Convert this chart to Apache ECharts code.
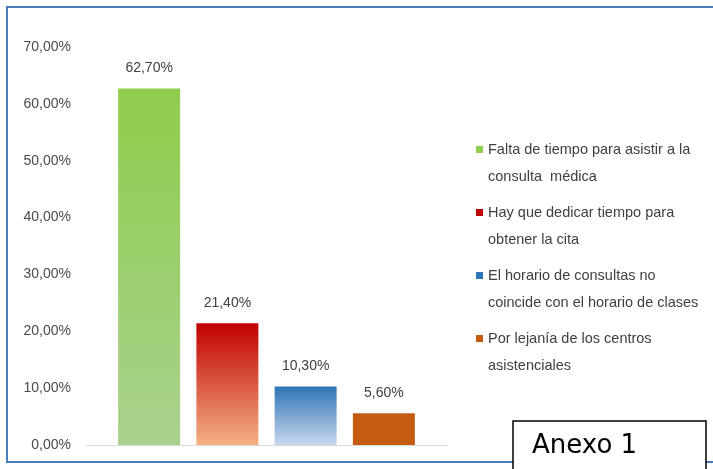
<!DOCTYPE html>
<html>
<head>
<meta charset="utf-8">
<style>
  html, body { margin: 0; padding: 0; background: #ffffff; }
  #chart { width: 713px; height: 469px; }
</style>
<script src="https://cdn.jsdelivr.net/npm/echarts@6/dist/echarts.min.js"></script>
</head>
<body>
<div id="chart"></div>
<script>
// ---- data ----
var categories = [
  'Falta de tiempo para asistir a la\nconsulta  médica',
  'Hay que dedicar tiempo para\nobtener la cita',
  'El horario de consultas no\ncoincide con el horario de clases',
  'Por lejanía de los centros\nasistenciales'
];
var values = [62.7, 21.4, 10.3, 5.6];
var yTicks = { min: 0, max: 70, interval: 10 };
var annexLabel = 'Anexo 1';

// ---- styles ----
var gradients = [
  ['#8fcd4c', '#a9d18e'],
  ['#c00000', '#f4b183'],
  ['#2e75b6', '#c9d7ee'],
  ['#c55a11', '#c55a11']
];
function fmt(v) { return v.toFixed(2).replace('.', ',') + '%'; }

var chart = echarts.init(document.getElementById('chart'), null, { renderer: 'canvas' });

var series = categories.map(function (name, i) {
  var d = categories.map(function (c, j) { return j === i ? values[i] : '-'; });
  return {
    name: name,
    type: 'bar',
    stack: 'all',
    barWidth: 62,
    data: d,
    itemStyle: {
      color: new echarts.graphic.LinearGradient(0, 0, 0, 1, [
        { offset: 0, color: gradients[i][0] },
        { offset: 1, color: gradients[i][1] }
      ])
    },
    label: {
      show: true,
      position: 'top',
      distance: 13,
      formatter: function (p) { return fmt(p.value); },
      fontFamily: 'Liberation Sans',
      fontSize: 14,
      color: '#404040'
    }
  };
});

var iconPath = 'path://M0,0L0,0M0,10L7,10L7,17L0,17ZM0,54L0,54';

chart.setOption({
  animation: false,
  backgroundColor: '#ffffff',
  color: gradients.map(function (g) { return g[0]; }),
  grid: { left: 110, right: 290, top: 47, bottom: 24 },
  legend: {
    orient: 'vertical',
    left: 476,
    top: 136,
    padding: 0,
    itemWidth: 7,
    itemHeight: 54,
    itemGap: 9,
    icon: iconPath,
    selectedMode: false,
    data: categories.map(function (c, i) {
      return { name: c, itemStyle: { color: gradients[i][0] } };
    }),
    textStyle: {
      fontFamily: 'Liberation Sans',
      fontSize: 14.5,
      lineHeight: 27,
      color: '#404040'
    }
  },
  xAxis: {
    type: 'category',
    data: categories,
    axisLine: { show: false },
    axisTick: { show: false },
    axisLabel: { show: false }
  },
  yAxis: {
    type: 'value',
    min: yTicks.min,
    max: yTicks.max,
    interval: yTicks.interval,
    splitLine: { show: false },
    axisLine: { show: false },
    axisTick: { show: false },
    axisLabel: {
      margin: 39,
      formatter: function (v) { return fmt(v); },
      fontFamily: 'Liberation Sans',
      fontSize: 14,
      color: '#4a4a4a'
    }
  },
  series: series,
  graphic: [
    {
      type: 'rect',
      z: 0,
      shape: { x: 7, y: 7, width: 730, height: 455 },
      style: { fill: 'none', stroke: '#4a7ebb', lineWidth: 2 }
    },
    {
      type: 'line',
      z: 1,
      shape: { x1: 86, y1: 445.5, x2: 447, y2: 445.5 },
      style: { stroke: '#d9d9d9', lineWidth: 1 }
    },
    {
      type: 'rect',
      z: 10,
      shape: { x: 513, y: 421, width: 193, height: 60 },
      style: { fill: '#ffffff', stroke: '#000000', lineWidth: 1.5 }
    },
    {
      type: 'text',
      z: 11,
      left: 532,
      top: 433,
      style: {
        text: annexLabel,
        fontFamily: 'DejaVu Sans',
        fontSize: 26,
        fill: '#000000'
      }
    }
  ]
});
</script>
</body>
</html>
